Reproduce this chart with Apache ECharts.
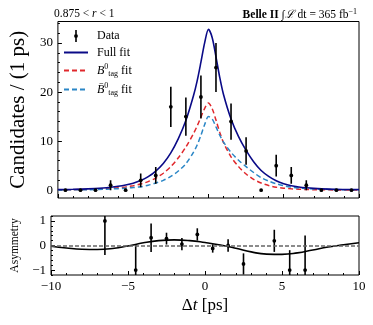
<!DOCTYPE html>
<html>
<head>
<meta charset="utf-8">
<script src="https://cdn.jsdelivr.net/npm/echarts@6/dist/echarts.min.js"></script>
<style>
  html, body { margin: 0; padding: 0; background: #fff; }
  #chart { width: 373px; height: 325px; }
</style>
</head>
<body>
<div id="chart"></div>
<script>
// bins of 1 ps, centres
var binCentres = [-9.5, -8.5, -7.5, -6.5, -5.5, -4.5, -3.5, -2.5, -1.5, -0.5, 0.5, 1.5, 2.5, 3.5, 4.5, 5.5, 6.5, 7.5, 8.5, 9.5];
var counts = [0, 0, 0, 1, 0, 2, 3, 17, 15, 19, 25, 14, 8, 0, 5, 3, 1, 0, 0, 0];
var countErr = [0, 0, 0, 1, 0, 1.4, 1.7, 4.1, 3.9, 4.4, 5, 3.7, 2.8, 0, 2.2, 1.7, 1, 0, 0, 0];

// fit curves
var fitT = [-10, -9, -8, -7, -6.5, -6, -5.5, -5, -4.5, -4, -3.5, -3, -2.5, -2, -1.5, -1, -0.75, -0.5, -0.25, 0,
  0.25, 0.5, 0.75, 1, 1.5, 2, 2.5, 3, 3.5, 4, 4.5, 5, 5.5, 6, 6.5, 7, 8, 9, 10];
var fullFit = [0.12, 0.17, 0.26, 0.45, 0.6, 0.8, 1.07, 1.42, 1.95, 2.75, 3.9, 5.45, 7.6, 10.5, 14.2, 19.2, 22.3, 26.1, 30.1, 32.8,
  31.1, 27.2, 23.0, 19.5, 14.5, 10.9, 8.1, 5.8, 4.0, 2.8, 1.9, 1.3, 0.9, 0.65, 0.48, 0.36, 0.21, 0.14, 0.1];
var b0Fit = [0.07, 0.1, 0.16, 0.28, 0.37, 0.49, 0.66, 0.9, 1.25, 1.75, 2.45, 3.45, 4.8, 6.6, 8.8, 11.5, 13.1, 14.9, 16.7, 17.8,
  16.6, 14.3, 11.8, 9.7, 6.8, 4.8, 3.3, 2.2, 1.45, 0.95, 0.6, 0.4, 0.27, 0.19, 0.14, 0.1, 0.06, 0.05, 0.04];
var b0barFit = [0.05, 0.07, 0.1, 0.17, 0.23, 0.31, 0.41, 0.52, 0.7, 1.0, 1.45, 2.0, 2.8, 3.9, 5.4, 7.7, 9.2, 11.2, 13.4, 15.0,
  14.5, 12.9, 11.2, 9.8, 7.7, 6.1, 4.8, 3.6, 2.55, 1.85, 1.3, 0.9, 0.63, 0.46, 0.34, 0.26, 0.15, 0.09, 0.06];

// asymmetry panel
var asymX = [-6.5, -4.5, -3.5, -2.5, -1.5, -0.5, 0.5, 1.5, 2.5, 4.5, 5.5, 6.5];
var asymVal = [1.0, -1.0, 0.32, 0.28, 0.06, 0.45, -0.12, 0.0, -0.75, 0.19, -1.0, -1.0];
var asymErr = [1.39, 1.05, 0.58, 0.24, 0.25, 0.25, 0.17, 0.25, 0.43, 0.45, 0.81, 1.41];
var asymT = [-10, -9, -8, -7, -6, -5, -4, -3, -2, -1, 0, 1, 2, 3, 4, 5, 6, 7, 8, 9, 10];
var asymFit = [-0.03, -0.1, -0.15, -0.16, -0.12, -0.02, 0.11, 0.2, 0.23, 0.2, 0.12, 0.02, -0.11, -0.26, -0.35, -0.36, -0.3, -0.18, -0.06, 0.03, 0.11];

// ticks
var yTicksTop = [0, 10, 20, 30];
var yMinorTop = [2, 4, 6, 8, 12, 14, 16, 18, 22, 24, 26, 28, 32, 34];
var yTicksAsym = [-1, 0, 1];

var FONT = '"Liberation Serif", "DejaVu Serif", serif';
var NAVY = '#0a0a87';
var RED = '#e0282c';
var BLUE = '#2a86c6';

function pairs(xs, ys) {
  return xs.map(function (x, i) { return [x, ys[i]]; });
}
function triples(xs, ys, es) {
  return xs.map(function (x, i) { return [x, ys[i], es[i]]; });
}
function minus(v) {
  return String(v).replace('-', '\u2212');
}

function renderErr(params, api) {
  var x = api.value(0), y = api.value(1), e = api.value(2);
  var c = api.coord([x, y]);
  var kids = [];
  if (e > 0) {
    var lo = api.coord([x, y - e]);
    var hi = api.coord([x, y + e]);
    kids.push({ type: 'line', shape: { x1: lo[0], y1: lo[1], x2: hi[0], y2: hi[1] }, style: { stroke: '#000', lineWidth: 1.6 } });
  }
  kids.push({ type: 'circle', shape: { cx: c[0], cy: c[1], r: 1.9 }, style: { fill: '#000' } });
  return { type: 'group', children: kids };
}

function txt(extra) {
  var s = { fontFamily: FONT, fontSize: 12, fontWeight: 'normal', color: '#000' };
  for (var k in extra) s[k] = extra[k];
  return s;
}

var rich = {
  i: txt({ fontStyle: 'italic' }),
  sup: txt({ fontSize: 8, padding: [0, 0, 7, 0] }),
  sub: txt({ fontSize: 8, padding: [6, 0, 0, 0] }),
  n: txt({})
};

var legendNames = {
  'Data': '{n|Data}',
  'Full fit': '{n|Full fit}',
  'B0': '{i|B}{sup|0}{sub|tag}{n| fit}',
  'B0bar': '{i|B\u0304}{sup|0}{sub|tag}{n| fit}'
};

var myChart = echarts.init(document.getElementById('chart'), null, { renderer: 'canvas' });

var hideDot = { opacity: 0 };

var option = {
  animation: false,
  backgroundColor: '#fff',
  title: [
    {
      text: '{n|0.875 < }{i|r}{n| < 1}',
      left: 49, top: 3,
      textStyle: txt({ fontSize: 11.5, rich: {
        n: txt({ fontSize: 11.5 }),
        i: txt({ fontSize: 11.5, fontStyle: 'italic' })
      } })
    },
    {
      text: '{b|Belle II} {n|\u222B}{i|\u2112}{n| dt = 365 fb}{sup|\u22121}',
      right: 11, top: 3,
      textStyle: txt({ fontSize: 11.5, rich: {
        b: txt({ fontSize: 11.5, fontWeight: 'bold' }),
        n: txt({ fontSize: 11.5 }),
        i: txt({ fontSize: 11.5, fontStyle: 'italic' }),
        sup: txt({ fontSize: 8, padding: [0, 0, 6, 0] })
      } })
    }
  ],
  legend: {
    orient: 'vertical',
    left: 58, top: 25,
    itemWidth: 24, itemHeight: 12, itemGap: 4.5,
    selectedMode: false,
    data: [
      { name: 'Data', icon: 'path://M0,0 M24,12 M11.2,0 L12.8,0 L12.8,12 L11.2,12 Z M12,4.1 A1.9,1.9 0 1,1 11.99,4.1 Z' },
      { name: 'Full fit', itemStyle: hideDot },
      { name: 'B0', itemStyle: hideDot },
      { name: 'B0bar', itemStyle: hideDot }
    ],
    formatter: function (name) { return legendNames[name]; },
    textStyle: txt({ padding: [0, 0, 0, 4], rich: rich })
  },
  grid: [
    { left: 51, right: 14, top: 21.5, height: 176.5, show: true, borderColor: '#000', borderWidth: 1, backgroundColor: 'transparent' },
    { left: 51, right: 14, top: 216, height: 59, show: true, borderColor: '#000', borderWidth: 1, backgroundColor: 'transparent' }
  ],
  xAxis: [
    {
      gridIndex: 0, type: 'value', min: -10, max: 10, interval: 5, position: 'bottom',
      axisLine: { show: false, onZero: false },
      axisLabel: { show: false },
      axisTick: { inside: true, length: 4, lineStyle: { color: '#000' } },
      minorTick: { show: true, splitNumber: 5, length: 2, lineStyle: { color: '#000' } },
      splitLine: { show: false }
    },
    {
      gridIndex: 1, type: 'value', min: -10, max: 10, interval: 5, position: 'bottom',
      axisLine: { show: false, onZero: false },
      axisLabel: { margin: 5, color: '#000', fontFamily: FONT, fontSize: 13, formatter: minus },
      axisTick: { inside: true, length: 4, lineStyle: { color: '#000' } },
      minorTick: { show: true, splitNumber: 5, length: 2, lineStyle: { color: '#000' } },
      splitLine: { show: false },
      name: '{n|\u0394}{i|t}{n| [ps]}',
      nameLocation: 'middle', nameGap: 22,
      nameTextStyle: { rich: {
        n: txt({ fontSize: 17 }),
        i: txt({ fontSize: 17, fontStyle: 'italic' })
      } }
    }
  ],
  yAxis: [
    {
      gridIndex: 0, type: 'value', min: -1.6, max: 34.4, position: 'left',
      axisLine: { show: false, onZero: false },
      axisLabel: { customValues: yTicksTop, margin: 5, color: '#000', fontFamily: FONT, fontSize: 13 },
      axisTick: { customValues: yTicksTop, inside: true, length: 4, lineStyle: { color: '#000' } },
      splitLine: { show: false },
      name: 'Candidates / (1 ps)',
      nameLocation: 'middle', nameGap: 28,
      nameTextStyle: txt({ fontSize: 21 })
    },
    {
      gridIndex: 1, type: 'value', min: -1.2, max: 1.2, position: 'left',
      axisLine: { show: false, onZero: false },
      axisLabel: { customValues: yTicksAsym, margin: 5, color: '#000', fontFamily: FONT, fontSize: 13, formatter: minus },
      axisTick: { customValues: yTicksAsym, inside: true, length: 4, lineStyle: { color: '#000' } },
      splitLine: { show: false },
      name: 'Asymmetry',
      nameLocation: 'middle', nameGap: 27,
      nameTextStyle: txt({ fontSize: 11.5 })
    },
    {
      gridIndex: 0, type: 'value', min: -1.6, max: 34.4, position: 'left',
      axisLine: { show: false, onZero: false },
      axisLabel: { show: false },
      axisTick: { customValues: yMinorTop, inside: true, length: 2, lineStyle: { color: '#000' } },
      splitLine: { show: false }
    },
    {
      gridIndex: 1, type: 'value', min: -1.2, max: 1.2, interval: 0.2, position: 'left',
      axisLine: { show: false, onZero: false },
      axisLabel: { show: false },
      axisTick: { inside: true, length: 2, lineStyle: { color: '#000' } },
      splitLine: { show: false }
    }
  ],
  series: [
    {
      name: 'Full fit', type: 'line', xAxisIndex: 0, yAxisIndex: 0,
      data: pairs(fitT, fullFit), symbol: 'none', smooth: 0.3, z: 3,
      lineStyle: { color: NAVY, width: 1.6 }, itemStyle: { color: NAVY }
    },
    {
      name: 'B0', type: 'line', xAxisIndex: 0, yAxisIndex: 0,
      data: pairs(fitT, b0Fit), symbol: 'none', smooth: 0.3, z: 2,
      lineStyle: { color: RED, width: 1.5, type: [5, 3] }, itemStyle: { color: RED }
    },
    {
      name: 'B0bar', type: 'line', xAxisIndex: 0, yAxisIndex: 0,
      data: pairs(fitT, b0barFit), symbol: 'none', smooth: 0.3, z: 2,
      lineStyle: { color: BLUE, width: 1.5, type: [5, 3] }, itemStyle: { color: BLUE }
    },
    {
      name: 'Data', type: 'custom', xAxisIndex: 0, yAxisIndex: 0,
      data: triples(binCentres, counts, countErr),
      renderItem: renderErr, clip: true, z: 4,
      itemStyle: { color: '#000' }
    },
    {
      name: 'asym fit', type: 'line', xAxisIndex: 1, yAxisIndex: 1,
      data: pairs(asymT, asymFit), symbol: 'none', smooth: 0.5, z: 3,
      lineStyle: { color: '#000', width: 1.6 },
      markLine: {
        silent: true, symbol: 'none', label: { show: false },
        lineStyle: { color: '#666', type: [4, 2], width: 1.5 },
        data: [{ yAxis: 0 }]
      }
    },
    {
      name: 'asym data', type: 'custom', xAxisIndex: 1, yAxisIndex: 1,
      data: triples(asymX, asymVal, asymErr),
      renderItem: renderErr, clip: true, z: 4
    }
  ]
};

myChart.setOption(option);
</script>
</body>
</html>
